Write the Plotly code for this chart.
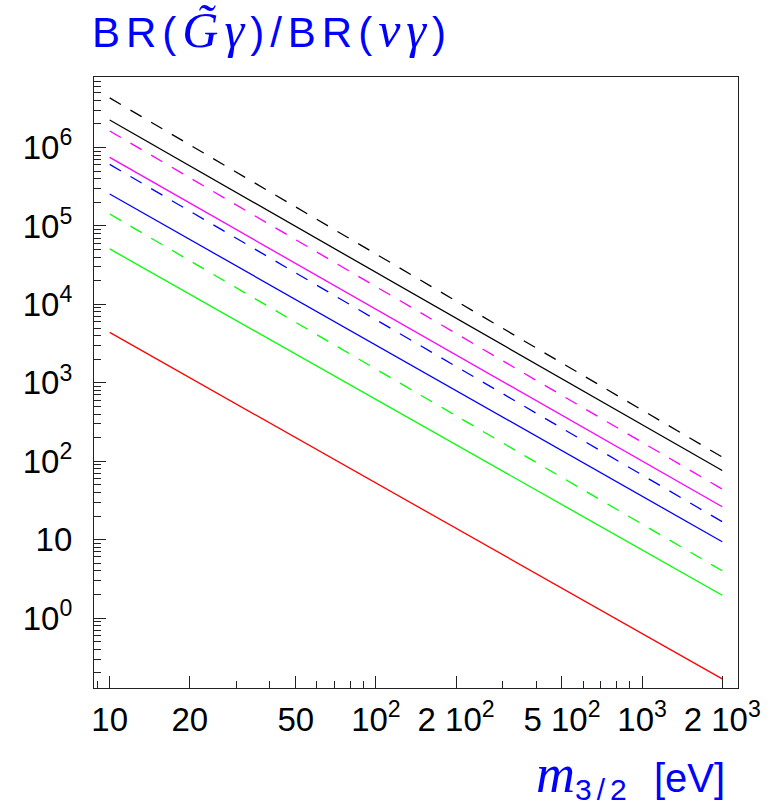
import math
import plotly.graph_objects as go

# Gravitino mass grid (eV) at which each curve is evaluated
m32 = [10, 2000]

# BR(G~ gamma)/BR(nu gamma) — solid curves
br_black_solid = [2.25e6, 76]
br_magenta_solid = [7.5e5, 26.2]
br_blue_solid = [2.56e5, 9.4]
br_green_solid = [5.1e4, 1.95]
br_red_solid = [4.4e3, 0.167]

# dashed curves
br_black_dash = [4.3e6, 113]
br_magenta_dash = [1.63e6, 44]
br_blue_dash = [6.1e5, 16.9]
br_green_dash = [1.42e5, 4.0]

# axis ticks
x_major = [10, 20, 50, 100, 200, 500, 1000, 2000]
x_major_text = ["10", "20", "50", "10<sup>2</sup>", "2 10<sup>2</sup>",
                "5 10<sup>2</sup>", "10<sup>3</sup>", "2 10<sup>3</sup>"]
x_minor = [9, 30, 40, 60, 70, 80, 90, 300, 400, 600, 700, 800, 900]
y_major = [1, 10, 100, 1e3, 1e4, 1e5, 1e6]
y_major_text = ["10<sup>0</sup>", "10", "10<sup>2</sup>", "10<sup>3</sup>",
                "10<sup>4</sup>", "10<sup>5</sup>", "10<sup>6</sup>"]

x_lo, x_hi = 8.73, 2292.0
y_lo, y_hi = 0.128, 7.95e6
y_minor = [m * 10 ** k for k in range(-1, 7) for m in range(2, 10)
           if y_lo < m * 10 ** k < y_hi]

BLACK, MAGENTA, BLUE, GREEN, RED = "#000000", "#ff00ff", "#0000ff", "#00ff00", "#ff0000"
DASH = "13px,11px"

fig = go.Figure()
curves = [
    (br_black_dash, BLACK, DASH),
    (br_black_solid, BLACK, "solid"),
    (br_magenta_dash, MAGENTA, DASH),
    (br_magenta_solid, MAGENTA, "solid"),
    (br_blue_dash, BLUE, DASH),
    (br_blue_solid, BLUE, "solid"),
    (br_green_dash, GREEN, DASH),
    (br_green_solid, GREEN, "solid"),
    (br_red_solid, RED, "solid"),
]
for ys, col, dash in curves:
    fig.add_trace(go.Scatter(x=m32, y=ys, mode="lines",
                             line=dict(color=col, width=1.3, dash=dash),
                             showlegend=False, hoverinfo="skip"))

axis_common = dict(
    type="log", showgrid=False, zeroline=False,
    showline=True, mirror=True, linecolor="#222222", linewidth=1.2,
    ticks="inside", tickcolor="#222222", tickwidth=1.2, ticklen=12,
    tickmode="array",
    tickfont=dict(family="Liberation Sans, Arial, sans-serif", size=33, color="#000000"),
)

fig.update_xaxes(
    **axis_common,
    range=[math.log10(x_lo), math.log10(x_hi)],
    tickvals=x_major, ticktext=x_major_text,
    ticklabelstandoff=2,
    minor=dict(tickmode="array", tickvals=x_minor, ticks="inside",
               ticklen=7, tickwidth=1.2, tickcolor="#222222", showgrid=False),
)
fig.update_yaxes(
    **axis_common,
    range=[math.log10(y_lo), math.log10(y_hi)],
    tickvals=y_major, ticktext=y_major_text,
    ticklabelstandoff=14,
    minor=dict(tickmode="array", tickvals=y_minor, ticks="inside",
               ticklen=7, tickwidth=1.2, tickcolor="#222222", showgrid=False),
)

SERIF_I = "font-family:'Liberation Serif', 'DejaVu Serif', serif;font-style:italic"
title_text = (f"<span style=\"letter-spacing:6px\">BR(</span>"
              f"<span style=\"{SERIF_I};font-size:50px;letter-spacing:6px\">G\u0303γ</span>"
              f"<span style=\"letter-spacing:6px\">)/BR(</span>"
              f"<span style=\"{SERIF_I};font-size:50px;letter-spacing:6px\">νγ</span>)")
xlabel_text = (f"<span style=\"{SERIF_I};font-size:54px\">m</span>"
               f"<sub><span style=\"font-size:30px;letter-spacing:5px\">3/2</span></sub>"
               f"\u00a0\u00a0[eV]")

L, R, T, B = 94.3, 34.3, 76.7, 121.0
W, H = 772, 809
pw, ph = W - L - R, H - T - B

fig.add_annotation(text=title_text, xref="paper", yref="paper",
                   x=(90 - L) / pw, y=(H - B - 30) / ph,
                   xanchor="left", yanchor="middle", showarrow=False,
                   font=dict(family="Liberation Sans, Arial, sans-serif", size=42, color="#0000ff"))
fig.add_annotation(text=xlabel_text, xref="paper", yref="paper",
                   x=(727 - L) / pw, y=(H - B - 775) / ph,
                   xanchor="right", yanchor="middle", showarrow=False,
                   font=dict(family="Liberation Sans, Arial, sans-serif", size=40, color="#0000ff"))

fig.update_layout(
    width=W, height=H,
    margin=dict(l=L, r=R, t=T, b=B, pad=0),
    paper_bgcolor="white", plot_bgcolor="white",
    showlegend=False,
)

fig.write_html("out.html")
